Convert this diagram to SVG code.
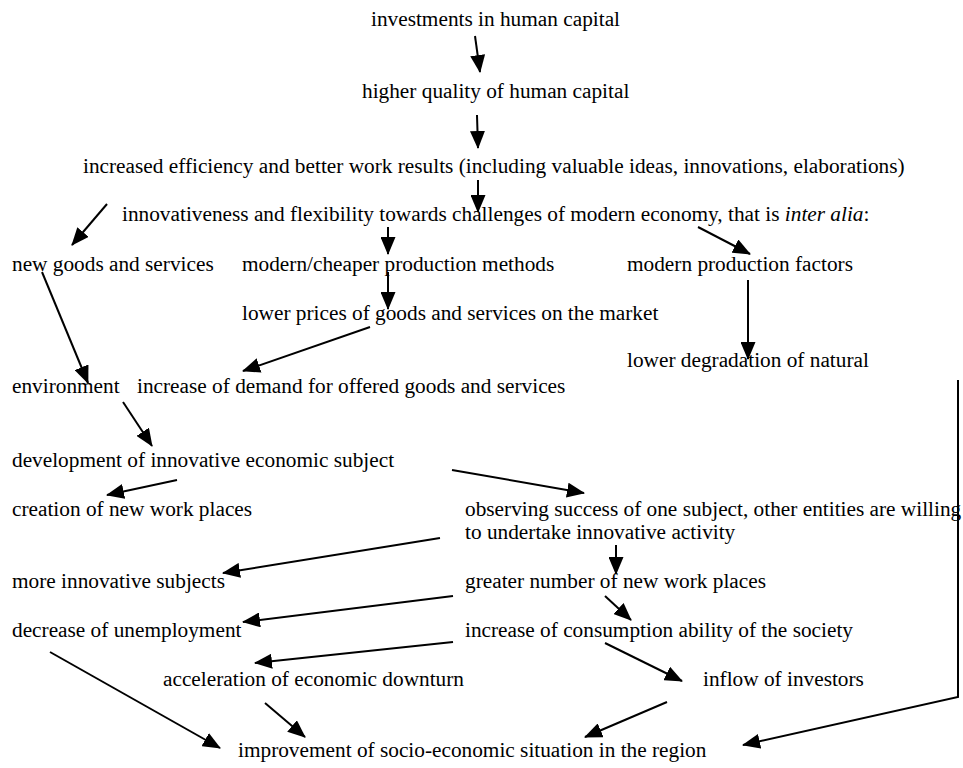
<svg xmlns="http://www.w3.org/2000/svg" width="963" height="768" viewBox="0 0 963 768">
<style>
text{font-family:"Liberation Serif","Times New Roman",serif;font-size:21.3px;fill:#000}
.c line,.c polyline{stroke:#000;stroke-width:2;fill:none;marker-end:url(#ah)}
</style>
<defs>
<marker id="ah" markerUnits="userSpaceOnUse" markerWidth="18" markerHeight="15" refX="17" refY="7.5" orient="auto" viewBox="0 0 18 15">
<path d="M0,0 L18,7.5 L0,15 z" fill="#000"/>
</marker>
</defs>
<rect width="963" height="768" fill="#fff"/>
<g id="n1"><text x="371" y="26">investments in human capital</text></g>
<g id="n2"><text x="362" y="98">higher quality of human capital</text></g>
<g id="n3"><text x="83" y="173">increased efficiency and better work results (including valuable ideas, innovations, elaborations)</text></g>
<g id="n4"><text x="122" y="221">innovativeness and flexibility towards challenges of modern economy, that is <tspan font-style="italic">inter alia</tspan>:</text></g>
<g id="n5"><text x="12" y="271">new goods and services</text></g>
<g id="n6"><text x="242" y="271">modern/cheaper production methods</text></g>
<g id="n7"><text x="627" y="271">modern production factors</text></g>
<g id="n8"><text x="242" y="320">lower prices of goods and services on the market</text></g>
<g id="n9"><text x="627" y="367">lower degradation of natural</text></g>
<g id="n10"><text x="12" y="393">environment</text></g>
<g id="n11"><text x="137" y="393">increase of demand for offered goods and services</text></g>
<g id="n12"><text x="12" y="467">development of innovative economic subject</text></g>
<g id="n13"><text x="12" y="516">creation of new work places</text></g>
<g id="n14"><text x="465" y="516">observing success of one subject, other entities are willing</text><text x="465" y="539">to undertake innovative activity</text></g>
<g id="n15"><text x="12" y="588">more innovative subjects</text></g>
<g id="n16"><text x="465" y="588">greater number of new work places</text></g>
<g id="n17"><text x="12" y="637">decrease of unemployment</text></g>
<g id="n18"><text x="465" y="637">increase of consumption ability of the society</text></g>
<g id="n19"><text x="163" y="686">acceleration of economic downturn</text></g>
<g id="n20"><text x="703" y="686">inflow of investors</text></g>
<g id="n21"><text x="238" y="757">improvement of socio-economic situation in the region</text></g>
<g class="c" id="connectors">
<line x1="475" y1="36" x2="480" y2="72"/>
<line x1="477" y1="115" x2="478" y2="148"/>
<line x1="478" y1="180" x2="478" y2="212"/>
<line x1="107" y1="204" x2="72" y2="245"/>
<line x1="388" y1="227" x2="388" y2="254"/>
<line x1="698" y1="227" x2="750" y2="254"/>
<line x1="388" y1="272" x2="388" y2="309"/>
<line x1="370" y1="327" x2="243" y2="371"/>
<line x1="42" y1="272" x2="88" y2="383"/>
<line x1="748" y1="280" x2="748" y2="359"/>
<line x1="123" y1="402" x2="152" y2="446"/>
<line x1="177" y1="480" x2="107" y2="495"/>
<line x1="452" y1="470" x2="584" y2="493"/>
<line x1="440" y1="538" x2="223" y2="573"/>
<line x1="616" y1="545" x2="616" y2="574"/>
<line x1="453" y1="596" x2="243" y2="622"/>
<line x1="605" y1="596" x2="631" y2="620"/>
<line x1="605" y1="643" x2="682" y2="681"/>
<line x1="453" y1="642" x2="255" y2="663"/>
<line x1="50" y1="652" x2="220" y2="748"/>
<line x1="265" y1="703" x2="305" y2="737"/>
<line x1="667" y1="702" x2="585" y2="737"/>
<polyline points="958,380 958,697 743,745"/>
</g>
</svg>
